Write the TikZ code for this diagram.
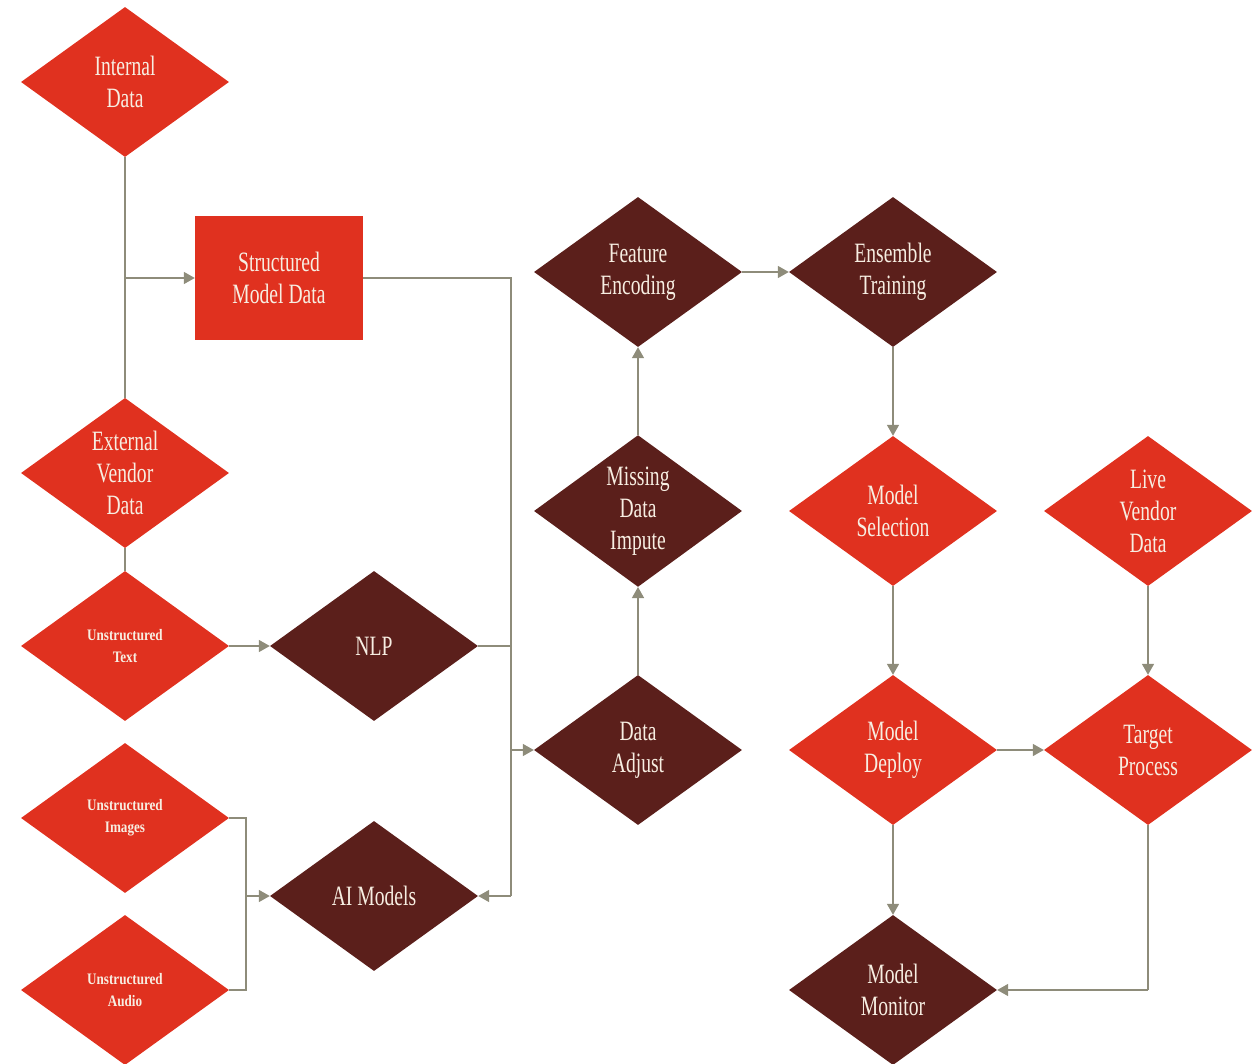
\documentclass[tikz,border=0pt]{standalone}
\usepackage{fontspec}
\setmainfont{Liberation Serif}[FakeStretch=0.7]
\newfontfamily\smallfont{Liberation Serif}[FakeStretch=0.82]
\usetikzlibrary{shapes.geometric,arrows.meta}
\definecolor{redf}{HTML}{E0311F}
\definecolor{darkf}{HTML}{5B1F1B}
\definecolor{linec}{HTML}{8E8C7A}
\definecolor{txt}{HTML}{F7EEE2}
\begin{document}
\begin{tikzpicture}[x=1pt,y=-1pt,
  dia/.style={shape=diamond,inner sep=0pt,minimum width=208pt,minimum height=150pt,
    text=txt,align=center,font=\fontsize{28}{32}\selectfont},
  reddia/.style={dia,fill=redf},
  darkdia/.style={dia,fill=darkf},
  smalldia/.style={reddia,font=\smallfont\bfseries\fontsize{16}{22}\selectfont},
  conn/.style={draw=linec,line width=1.5pt},
  arr/.style={conn,-{Triangle[length=11pt,width=12pt]}}]
\useasboundingbox (0,0) rectangle (1258,1064);
\node[reddia] (internal) at (125,82) {Internal\\Data};
\node[reddia] (external) at (125,473) {External\\Vendor\\Data};
\node[smalldia] (utext) at (125,646) {Unstructured\\Text};
\node[smalldia] (uimg) at (125,818) {Unstructured\\Images};
\node[smalldia] (uaudio) at (125,990) {Unstructured\\Audio};
\node[fill=redf,minimum width=168pt,minimum height=124pt,inner sep=0pt,text=txt,align=center,
  font=\fontsize{28}{32}\selectfont] (smd) at (279,278) {Structured\\Model Data};
\node[darkdia] (nlp) at (374,646) {NLP};
\node[darkdia] (ai) at (374,896) {AI Models};
\node[darkdia] (adjust) at (638,750) {Data\\Adjust};
\node[darkdia] (missing) at (638,511) {Missing\\Data\\Impute};
\node[darkdia] (feature) at (638,272) {Feature\\Encoding};
\node[darkdia] (ensemble) at (893,272) {Ensemble\\Training};
\node[reddia] (select) at (893,511) {Model\\Selection};
\node[reddia] (deploy) at (893,750) {Model\\Deploy};
\node[darkdia] (monitor) at (893,990) {Model\\Monitor};
\node[reddia] (live) at (1148,511) {Live\\Vendor\\Data};
\node[reddia] (target) at (1148,750) {Target\\Process};
\coordinate (j1) at (125,278);
\coordinate (bus) at (511,278);
\coordinate (busA) at (511,646);
\coordinate (busB) at (511,750);
\coordinate (busC) at (511,896);
\coordinate (m1) at (246,818);
\coordinate (m2) at (246,990);
\coordinate (m3) at (246,896);
\coordinate (t1) at (1148,990);
% connectors
\draw[conn] (internal.south) -- (external.north);
\draw[arr] (j1) -- (smd.west);
\draw[conn] (external.south) -- (utext.north);
\draw[conn] (smd.east) -- (bus) -- (busC);
\draw[arr] (busC) -- (ai.east);
\draw[conn] (nlp.east) -- (busA);
\draw[arr] (busB) -- (adjust.west);
\draw[arr] (utext.east) -- (nlp.west);
\draw[conn] (uimg.east) -- (m1) -- (m2) -- (uaudio.east);
\draw[arr] (m3) -- (ai.west);
\draw[arr] (adjust.north) -- (missing.south);
\draw[arr] (missing.north) -- (feature.south);
\draw[arr] (feature.east) -- (ensemble.west);
\draw[arr] (ensemble.south) -- (select.north);
\draw[arr] (select.south) -- (deploy.north);
\draw[arr] (deploy.east) -- (target.west);
\draw[arr] (deploy.south) -- (monitor.north);
\draw[arr] (live.south) -- (target.north);
\draw[conn] (target.south) -- (t1);
\draw[arr] (t1) -- (monitor.east);
\end{tikzpicture}
\end{document}
